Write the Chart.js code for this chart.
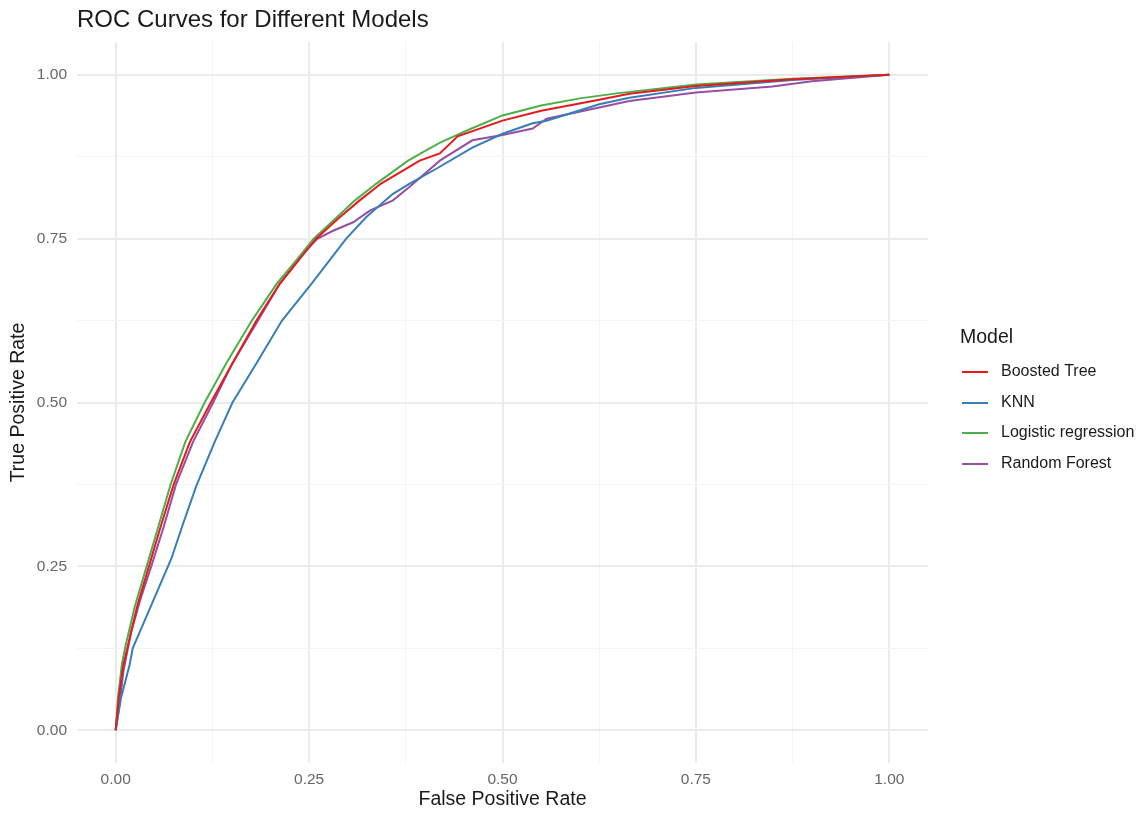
<!DOCTYPE html>
<html>
<head>
<meta charset="utf-8">
<script src="https://cdn.jsdelivr.net/npm/chart.js@4.4.1/dist/chart.umd.min.js"></script>
<style>
  html, body { margin: 0; padding: 0; background: #ffffff; }
  .grafica { position: relative; width: 1141px; height: 814px; }
</style>
</head>
<body>
<div class="grafica">
  <canvas id="rocChart"></canvas>
</div>
<script>
// values
const models = ['Boosted Tree', 'KNN', 'Logistic regression', 'Random Forest'];

const boostedFpr = [0, 0.004, 0.010, 0.015, 0.028, 0.043, 0.058, 0.075, 0.096, 0.123, 0.151, 0.182, 0.212, 0.235, 0.259, 0.287, 0.315, 0.343, 0.393, 0.419, 0.442, 0.500, 0.550, 0.625, 0.664, 0.750, 0.875, 1];
const boostedTpr = [0, 0.050, 0.100, 0.125, 0.190, 0.250, 0.310, 0.375, 0.440, 0.500, 0.560, 0.625, 0.681, 0.715, 0.750, 0.780, 0.808, 0.834, 0.869, 0.880, 0.906, 0.930, 0.945, 0.962, 0.971, 0.983, 0.993, 1];

const knnFpr = [0, 0.007, 0.018, 0.022, 0.044, 0.072, 0.088, 0.104, 0.128, 0.151, 0.182, 0.215, 0.253, 0.298, 0.324, 0.358, 0.380, 0.415, 0.461, 0.500, 0.539, 0.557, 0.625, 0.664, 0.750, 0.875, 1];
const knnTpr = [0, 0.050, 0.100, 0.125, 0.185, 0.262, 0.318, 0.372, 0.440, 0.500, 0.560, 0.625, 0.681, 0.750, 0.783, 0.818, 0.834, 0.857, 0.889, 0.910, 0.926, 0.930, 0.955, 0.965, 0.980, 0.992, 1];

const logisticFpr = [0, 0.003, 0.008, 0.012, 0.025, 0.040, 0.055, 0.071, 0.090, 0.115, 0.143, 0.176, 0.208, 0.232, 0.256, 0.280, 0.309, 0.337, 0.378, 0.400, 0.420, 0.460, 0.500, 0.550, 0.600, 0.650, 0.750, 0.875, 1];
const logisticTpr = [0, 0.050, 0.100, 0.125, 0.190, 0.250, 0.310, 0.375, 0.440, 0.500, 0.560, 0.625, 0.681, 0.715, 0.750, 0.776, 0.808, 0.834, 0.869, 0.884, 0.897, 0.918, 0.938, 0.953, 0.964, 0.972, 0.985, 0.994, 1];

const forestFpr = [0, 0.005, 0.010, 0.020, 0.032, 0.046, 0.062, 0.078, 0.100, 0.126, 0.151, 0.184, 0.212, 0.246, 0.261, 0.281, 0.307, 0.329, 0.358, 0.380, 0.419, 0.461, 0.500, 0.539, 0.557, 0.625, 0.664, 0.750, 0.849, 0.900, 1];
const forestTpr = [0, 0.040, 0.090, 0.150, 0.200, 0.250, 0.310, 0.375, 0.440, 0.500, 0.560, 0.625, 0.681, 0.732, 0.750, 0.762, 0.775, 0.793, 0.808, 0.829, 0.869, 0.900, 0.908, 0.918, 0.933, 0.950, 0.960, 0.973, 0.982, 0.990, 1];

const tickValues = [0, 0.25, 0.5, 0.75, 1];
const gridValues = [0, 0.125, 0.25, 0.375, 0.5, 0.625, 0.75, 0.875, 1];

const colores = ['#E41A1C', '#377EB8', '#4DAF4A', '#984EA3'];
const fprSeries = [boostedFpr, knnFpr, logisticFpr, forestFpr];
const tprSeries = [boostedTpr, knnTpr, logisticTpr, forestTpr];

const FONT = '"Liberation Sans", Arial, Helvetica, sans-serif';
Chart.defaults.font.family = FONT;

const isMajor = v => tickValues.some(t => Math.abs(t - v) < 1e-9);

const datasets = models.map((name, i) => ({
  label: name,
  data: fprSeries[i].map((x, j) => ({ x: x, y: tprSeries[i][j] })),
  borderColor: colores[i],
  backgroundColor: colores[i],
  borderWidth: 2,
  pointRadius: 0,
  showLine: true,
  tension: 0
}));

// title + ggplot style legend
const ggExtras = {
  id: 'ggExtras',
  afterDraw(chart) {
    const ctx = chart.ctx;
    ctx.save();
    ctx.textAlign = 'left';
    ctx.fillStyle = '#1a1a1a';
    ctx.textBaseline = 'alphabetic';
    ctx.font = '24px ' + FONT;
    ctx.fillText('ROC Curves for Different Models', 77, 27);

    ctx.textBaseline = 'middle';
    ctx.font = '19.5px ' + FONT;
    ctx.fillText('Model', 960, 338);

    const rows = [372, 403, 433, 464];
    ctx.font = '16px ' + FONT;
    chart.data.datasets.forEach((ds, i) => {
      ctx.strokeStyle = ds.borderColor;
      ctx.lineWidth = 2;
      ctx.beginPath();
      ctx.moveTo(962, rows[i]);
      ctx.lineTo(988, rows[i]);
      ctx.stroke();
      ctx.fillStyle = '#1a1a1a';
      ctx.fillText(ds.label, 1001, rows[i]);
    });
    ctx.restore();
  }
};

const axisCommon = {
  type: 'linear',
  min: -0.05,
  max: 1.05,
  afterBuildTicks: scale => { scale.ticks = gridValues.map(v => ({ value: v })); },
  border: { display: false },
  grid: {
    drawTicks: false,
    color: c => isMajor(c.tick.value) ? '#ebebeb' : '#f4f4f4',
    lineWidth: c => isMajor(c.tick.value) ? 2 : 1
  }
};

new Chart(document.getElementById('rocChart'), {
  type: 'scatter',
  data: { datasets: datasets },
  options: {
    responsive: true,
    maintainAspectRatio: false,
    animation: false,
    layout: { padding: { left: 0, top: 42, right: 213, bottom: 0 } },
    plugins: {
      legend: { display: false },
      tooltip: { enabled: false }
    },
    scales: {
      x: {
        ...axisCommon,
        afterFit: scale => { scale.height = 51; },
        ticks: {
          autoSkip: false,
          maxRotation: 0,
          padding: 7,
          color: '#666666',
          font: { size: 15.5 },
          callback: v => isMajor(v) ? v.toFixed(2) : ''
        },
        title: {
          display: true,
          text: 'False Positive Rate',
          color: '#1a1a1a',
          font: { size: 19.5 },
          padding: { top: 0, bottom: 2.3 }
        }
      },
      y: {
        ...axisCommon,
        afterFit: scale => { scale.width = 77; },
        ticks: {
          autoSkip: false,
          padding: 10,
          color: '#666666',
          font: { size: 15.5 },
          callback: v => isMajor(v) ? v.toFixed(2) : ''
        },
        title: {
          display: true,
          text: 'True Positive Rate',
          color: '#1a1a1a',
          font: { size: 19.5 },
          padding: { top: 7.3, bottom: 0 }
        }
      }
    }
  },
  plugins: [ggExtras]
});
</script>
</body>
</html>
